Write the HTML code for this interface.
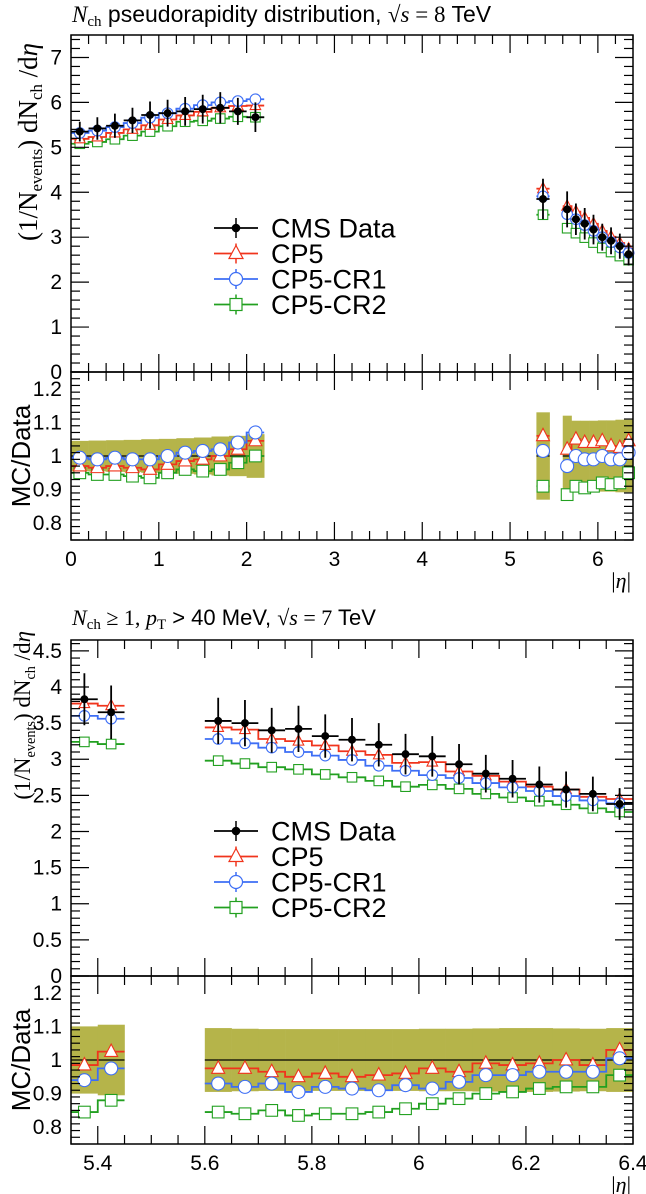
<!DOCTYPE html>
<html><head><meta charset="utf-8"><style>
html,body{margin:0;padding:0;background:#fff;}
svg{display:block;font-family:"Liberation Sans",sans-serif;}
</style></head><body>
<svg id="c" width="646" height="1194" viewBox="0 0 646 1194" xmlns="http://www.w3.org/2000/svg"></svg>
<script>
// ---------- Top panel data (sqrt(s)=8 TeV) ----------
const topEdgesC = [0,0.2,0.4,0.6,0.8,1.0,1.2,1.4,1.6,1.8,2.0,2.2];
const topEdgesF = [5.3,5.45];
const topEdgesF2 = [5.6,5.7,5.8,5.9,6.0,6.1,6.2,6.3,6.4];
const topData = [5.35,5.42,5.48,5.6,5.72,5.76,5.8,5.85,5.88,5.8,5.67, 3.85, 3.62,3.4,3.3,3.17,3.0,2.92,2.8,2.62];
const topDataErr = [0.22,0.25,0.27,0.28,0.3,0.3,0.32,0.32,0.35,0.3,0.33, 0.45, 0.4,0.35,0.35,0.33,0.3,0.3,0.28,0.25];
const topCP5 = [5.19,5.23,5.32,5.40,5.49,5.62,5.71,5.79,5.88,5.92,5.93, 4.08, 3.69,3.57,3.43,3.30,3.14,3.01,2.87,2.74];
const topCR1 = [5.32,5.37,5.45,5.54,5.66,5.76,5.86,5.94,6.0,6.03,6.07, 3.91, 3.51,3.4,3.27,3.14,3.0,2.89,2.77,2.65];
const topCR2 = [5.08,5.12,5.18,5.26,5.35,5.47,5.57,5.59,5.64,5.68,5.67, 3.5, 3.2,3.09,2.99,2.88,2.76,2.67,2.58,2.49];
const topRCP5 = [0.97,0.965,0.97,0.965,0.96,0.975,0.985,0.99,1.0,1.02,1.045, 1.06, 1.02,1.05,1.04,1.04,1.045,1.03,1.025,1.045];
const topRCR1 = [0.995,0.99,0.995,0.99,0.99,1.0,1.01,1.015,1.02,1.04,1.07, 1.015, 0.97,1.0,0.99,0.99,1.0,0.99,0.99,1.01];
const topRCR2 = [0.95,0.945,0.945,0.94,0.935,0.95,0.96,0.955,0.96,0.98,1.0, 0.91, 0.885,0.91,0.905,0.91,0.92,0.915,0.92,0.95];
const topBand = [0.045,0.046,0.047,0.048,0.05,0.051,0.053,0.055,0.058,0.06,0.065, 0.13, 0.12,0.105,0.105,0.105,0.106,0.106,0.108,0.108];
const topXTicks = ["0","1","2","3","4","5","6"];
const topYTicks = ["0","1","2","3","4","5","6","7"];
// ---------- Bottom panel data (sqrt(s)=7 TeV) ----------
const botEdgesA = [5.35,5.4,5.45];
const botEdgesB = [5.6,5.65,5.7,5.75,5.8,5.85,5.9,5.95,6.0,6.05,6.1,6.15,6.2,6.25,6.3,6.35,6.4];
const botData = [3.83,3.65, 3.53,3.5,3.4,3.42,3.32,3.27,3.2,3.07,3.04,2.93,2.8,2.73,2.65,2.58,2.52,2.38];
const botDataErr = [0.36,0.37, 0.32,0.32,0.31,0.32,0.3,0.3,0.3,0.28,0.28,0.28,0.26,0.26,0.25,0.25,0.24,0.22];
const botCP5 = [3.77,3.74, 3.44,3.41,3.28,3.25,3.19,3.11,3.06,2.95,2.96,2.83,2.77,2.69,2.62,2.58,2.48,2.45];
const botCR1 = [3.6,3.56, 3.28,3.22,3.16,3.1,3.05,2.99,2.91,2.84,2.78,2.74,2.67,2.61,2.56,2.49,2.43,2.39];
const botCR2 = [3.24,3.21, 2.98,2.94,2.89,2.86,2.79,2.75,2.70,2.62,2.645,2.59,2.52,2.47,2.42,2.37,2.32,2.27];
const botRCP5 = [0.985,1.025, 0.975,0.975,0.965,0.95,0.96,0.95,0.955,0.96,0.975,0.965,0.99,0.985,0.99,1.0,0.985,1.03];
const botRCR1 = [0.94,0.975, 0.93,0.92,0.93,0.905,0.92,0.915,0.91,0.925,0.915,0.935,0.955,0.955,0.965,0.965,0.965,1.005];
const botRCR2 = [0.845,0.88, 0.845,0.84,0.85,0.835,0.84,0.84,0.845,0.855,0.87,0.885,0.9,0.905,0.915,0.92,0.92,0.955];
const botBand = [0.1,0.105, 0.095,0.093,0.092,0.092,0.092,0.092,0.092,0.092,0.093,0.093,0.094,0.095,0.095,0.094,0.093,0.095];
const botXTicks = ["5.4","5.6","5.8","6","6.2","6.4"];
const botYTicks = ["0","0.5","1","1.5","2","2.5","3","3.5","4","4.5"];
const ratioTicks = ["0.8","0.9","1","1.1","1.2"];

const NS="http://www.w3.org/2000/svg";
const svg=document.getElementById('c');
function el(tag,attrs,parent){const e=document.createElementNS(NS,tag);for(const k in attrs)e.setAttribute(k,attrs[k]);(parent||svg).appendChild(e);return e;}
const COL={data:'#000',cp5:'#f0341c',cr1:'#3d6ef5',cr2:'#22a020',band:'#b5b44a'};

function binsFrom(groups){const b=[];groups.forEach(g=>{for(let i=0;i<g.length-1;i++)b.push([g[i],g[i+1],g]);});return b;}

function panel(cfg){
  const {x0,x1,xmin,xmax,my0,my1,ymax,ry0,ry1,groups} = cfg;
  const sx=v=>x0+(v-xmin)/(xmax-xmin)*(x1-x0);
  const sy=v=>my1-v/ymax*(my1-my0);
  const sr=v=>ry1-(v-0.75)/0.5*(ry1-ry0);
  const bins=binsFrom(groups);
  const g=el('g',{});
  
  
  bins.forEach((b,i)=>{
    const r=el('rect',{x:sx(b[0]),y:sr(1+cfg.band[i]),width:sx(b[1])-sx(b[0])+0.3,height:sr(1-cfg.band[i])-sr(1+cfg.band[i]),fill:COL.band},g);
    
    
  });
  groups.forEach(gr=>{const l=el('line',{x1:sx(gr[0]),x2:sx(gr[gr.length-1]),y1:sr(1),y2:sr(1),stroke:'#000','stroke-width':1.2},g);
    });
  function steps(vals,scale,color,name){
    groups.forEach(gr=>{
      let d='';let idx=bins.findIndex(b=>b[2]===gr);
      for(let i=0;i<gr.length-1;i++){const v=vals[idx+i];const y=scale(v);
        d+=(i===0?'M':'L')+sx(gr[i])+','+y+'L'+sx(gr[i+1])+','+y;}
      const p=el('path',{d:d,fill:'none',stroke:color,'stroke-width':1.8},g);
      
    });
  }
  function marker(type,cx,cy,color,r){
    let m;
    if(type==='tri') m=el('polygon',{points:`${cx},${cy-r-1} ${cx-r},${cy+r*0.75} ${cx+r},${cy+r*0.75}`,fill:'#fff',stroke:color,'stroke-width':1.1},g);
    else if(type==='circ') m=el('circle',{cx:cx,cy:cy,r:r,fill:'#fff',stroke:color,'stroke-width':1.1},g);
    else m=el('rect',{x:cx-r*0.9,y:cy-r*0.9,width:1.8*r,height:1.8*r,fill:'#fff',stroke:color,'stroke-width':1.1},g);
    
  }
  const series=[[cfg.cp5,cfg.rcp5,COL.cp5,'tri','cp5'],[cfg.cr1,cfg.rcr1,COL.cr1,'circ','cp5-cr1'],[cfg.cr2,cfg.rcr2,COL.cr2,'sq','cp5-cr2']];
  [series[2],series[0],series[1]].forEach(s=>{
    steps(s[0],sy,s[2],s[4]+'-line');
    steps(s[1],sr,s[2],s[4]+'-ratio-line');
    bins.forEach((b,i)=>{const c=(b[0]+b[1])/2;marker(s[3],sx(c),sy(s[0][i]),s[2],5.3);marker(s[3],sx(c),sr(s[1][i]),s[2],6.5);});
  });
  bins.forEach((b,i)=>{const c=(b[0]+b[1])/2;const y=sy(cfg.data[i]);
    const e=el('path',{d:`M${sx(b[0])},${y}L${sx(b[1])},${y}M${sx(c)},${sy(cfg.data[i]+cfg.err[i])}L${sx(c)},${sy(cfg.data[i]-cfg.err[i])}`,stroke:'#000','stroke-width':1.8},g);
    
    const p=el('circle',{cx:sx(c),cy:y,r:4,fill:'#000'},g);
    
  });
  [[my0,my1],[ry0,ry1]].forEach(([a,b2])=>{const f=el('rect',{x:x0,y:a,width:x1-x0,height:b2-a,fill:'none',stroke:'#000','stroke-width':1.5},g);
    });
  const tk=(x1a,y1a,x2a,y2a)=>el('line',{x1:x1a,y1:y1a,x2:x2a,y2:y2a,stroke:'#000','stroke-width':1.2},g);
  for(let v=xmin;v<=xmax+1e-9;v+=cfg.xminor){
    const vv=Math.round(v/cfg.xminor)*cfg.xminor;const major=Math.abs(vv/cfg.xmajor-Math.round(vv/cfg.xmajor))<1e-6;
    const L=major?18:9;const X=sx(vv);
    [my0,ry0].forEach(t=>tk(X,t,X,t+L));
    [my1,ry1].forEach(t=>tk(X,t,X,t-L));
  }
  for(let v=0;v<=ymax+1e-9;v+=cfg.yminor){const major=Math.abs(v/cfg.ymajor-Math.round(v/cfg.ymajor))<1e-6;const L=major?18:9;const Y=sy(v);tk(x0,Y,x0+L,Y);tk(x1,Y,x1-L,Y);}
  for(let v=0.75;v<=1.25+1e-9;v+=0.02){const vv=Math.round(v*100)/100;const major=Math.abs(vv*10-Math.round(vv*10))<1e-6;const L=major?18:9;const Y=sr(vv);tk(x0,Y,x0+L,Y);tk(x1,Y,x1-L,Y);}
  cfg.yTicks.forEach(t=>{const tx=el('text',{x:x0-9,y:sy(parseFloat(t))+7,'text-anchor':'end','font-size':21},g);tx.textContent=t;
    });
  ratioTicks.forEach(t=>{const tx=el('text',{x:x0-9,y:sr(parseFloat(t))+7,'text-anchor':'end','font-size':21},g);tx.textContent=t;
    });
  cfg.xTicks.forEach(t=>{const tx=el('text',{x:sx(parseFloat(t)),y:ry1+26,'text-anchor':'middle','font-size':21},g);tx.textContent=t;
    });
  const xt=el('text',{x:x1-2,y:ry1+48,'text-anchor':'end','font-size':22,'font-family':'Liberation Serif,serif'},g);
  xt.innerHTML='|<tspan font-style="italic">η</tspan>|';
  
  const rt=el('text',{transform:`translate(30,${(ry0+ry1)/2}) rotate(-90)`,'text-anchor':'middle','font-size':26},g);
  rt.textContent='MC/Data';
  const yt=el('text',{transform:`translate(${cfg.ytX},${my0+cfg.ytOff}) rotate(-90)`,'text-anchor':'end','font-size':cfg.ytSize,'font-family':'Liberation Serif,serif'},g);
  yt.innerHTML='(1/N<tspan font-size="'+(cfg.ytSize*0.62)+'" dy="5">events</tspan><tspan dy="-5">) dN</tspan><tspan font-size="'+(cfg.ytSize*0.62)+'" dy="5">ch</tspan><tspan dy="-5"> /d</tspan><tspan font-style="italic">η</tspan>';
  
  const leg=el('g',{},g);
  const ents=[['CMS Data',COL.data,'dot'],['CP5',COL.cp5,'tri'],['CP5-CR1',COL.cr1,'circ'],['CP5-CR2',COL.cr2,'sq']];
  ents.forEach((e,i)=>{const y=cfg.legY+i*25.5;const lx=214,rx=258,cx=236;
    const eg=el('g',{},leg);
    el('line',{x1:lx,x2:rx,y1:y,y2:y,stroke:e[1],'stroke-width':1.8},eg);
    el('line',{x1:cx,x2:cx,y1:y-10,y2:y+10,stroke:e[1],'stroke-width':1.5},eg);
    if(e[2]==='dot')el('circle',{cx:cx,cy:y,r:4.3,fill:'#000'},eg);
    else if(e[2]==='tri')el('polygon',{points:`${cx},${y-8} ${cx-7},${y+5} ${cx+7},${y+5}`,fill:'#fff',stroke:e[1],'stroke-width':1.2},eg);
    else if(e[2]==='circ')el('circle',{cx:cx,cy:y,r:6.5,fill:'#fff',stroke:e[1],'stroke-width':1.2},eg);
    else el('rect',{x:cx-6,y:y-6,width:12,height:12,fill:'#fff',stroke:e[1],'stroke-width':1.2},eg);
    const t=el('text',{x:271,y:y+9.5,'font-size':27},eg);t.textContent=e[0];
  });
  const tt=el('text',{x:72,y:cfg.titleY,'font-size':cfg.titleSize},g);tt.innerHTML=cfg.title;
  
}

panel({name:'top-panel',x0:71,x1:633,xmin:0,xmax:6.4,my0:35,my1:372,ymax:7.5,ry0:372,ry1:540,
  groups:[topEdgesC,topEdgesF,topEdgesF2],data:topData,err:topDataErr,cp5:topCP5,cr1:topCR1,cr2:topCR2,
  rcp5:topRCP5,rcr1:topRCR1,rcr2:topRCR2,band:topBand,xTicks:topXTicks,yTicks:topYTicks,
  xminor:0.2,xmajor:1,yminor:0.2,ymajor:1,legY:228,titleY:22,titleSize:23,ytX:37,ytOff:8,ytSize:27,
  title:'<tspan font-family="Liberation Serif,serif" font-style="italic">N</tspan><tspan font-family="Liberation Serif,serif" font-size="15" dy="4">ch</tspan><tspan dy="-4"> pseudorapidity distribution, </tspan><tspan font-family="Liberation Serif,serif">√<tspan font-style="italic">s</tspan> = 8</tspan> TeV'});

panel({name:'bottom-panel',x0:71,x1:633,xmin:5.35,xmax:6.4,my0:640,my1:976,ymax:4.65,ry0:976,ry1:1144,
  groups:[botEdgesA,botEdgesB],data:botData,err:botDataErr,cp5:botCP5,cr1:botCR1,cr2:botCR2,
  rcp5:botRCP5,rcr1:botRCR1,rcr2:botRCR2,band:botBand,xTicks:botXTicks,yTicks:botYTicks,
  xminor:0.05,xmajor:0.2,yminor:0.1,ymajor:0.5,legY:831,titleY:625,titleSize:22,ytX:30,ytOff:-9,ytSize:23,
  title:'<tspan font-family="Liberation Serif,serif" font-style="italic">N</tspan><tspan font-family="Liberation Serif,serif" font-size="15" dy="4">ch</tspan><tspan dy="-4" font-family="Liberation Serif,serif"> ≥ 1, </tspan><tspan font-family="Liberation Serif,serif" font-style="italic">p</tspan><tspan font-family="Liberation Serif,serif" font-size="15" dy="4">T</tspan><tspan dy="-4"> &gt; 40 MeV, </tspan><tspan font-family="Liberation Serif,serif">√<tspan font-style="italic">s</tspan> = 7</tspan> TeV'});
</script>
</body></html>
